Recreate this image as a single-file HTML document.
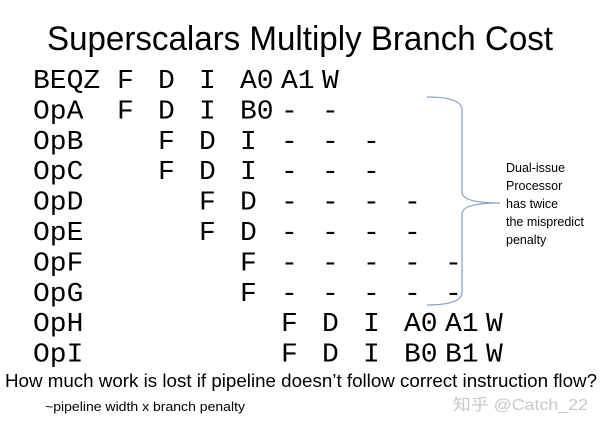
<!DOCTYPE html>
<html><head><meta charset="utf-8"><style>
html,body{margin:0;padding:0;background:#fff;width:600px;height:429px;overflow:hidden}
</style></head><body>
<svg width="600" height="429" xmlns="http://www.w3.org/2000/svg">
<text x="47" y="50" font-family="Liberation Sans, sans-serif" font-size="34" textLength="506" lengthAdjust="spacingAndGlyphs" fill="#000">Superscalars Multiply Branch Cost</text>
<g font-family="Liberation Mono, monospace" font-size="27" fill="#000" id="g"></g>
<path d="M427,97 Q462,97 462,110 L462,192 Q462,203 500,203 Q462,203 462,214 L462,292 Q462,305 427,305" fill="none" stroke="#8aa6c8" stroke-width="1.3"/>
<g font-family="Liberation Sans, sans-serif" font-size="12.5" fill="#000">
<text x="506" y="172">Dual-issue</text>
<text x="506" y="190">Processor</text>
<text x="506" y="208">has twice</text>
<text x="506" y="226">the mispredict</text>
<text x="506" y="244">penalty</text>
</g>
<text x="5" y="387" font-family="Liberation Sans, sans-serif" font-size="18" textLength="592" lengthAdjust="spacingAndGlyphs">How much work is lost if pipeline doesn’t follow correct instruction flow?</text>
<text x="45" y="411" font-family="Liberation Sans, sans-serif" font-size="12.5" textLength="200" lengthAdjust="spacingAndGlyphs">~pipeline width x branch penalty</text>
<text x="453" y="410" font-family="Liberation Sans, Noto Sans CJK SC, sans-serif" font-size="16" fill="#c8c8c8" textLength="135" lengthAdjust="spacingAndGlyphs">知乎 @Catch_22</text>
</svg>
<script>
var rows=[
["BEQZ",[[4,"F"],[6,"D"],[8,"I"],[10,"A0"],[12,"A1"],[14,"W"]]],
["OpA",[[4,"F"],[6,"D"],[8,"I"],[10,"B0"],[12,"-"],[14,"-"]]],
["OpB",[[6,"F"],[8,"D"],[10,"I"],[12,"-"],[14,"-"],[16,"-"]]],
["OpC",[[6,"F"],[8,"D"],[10,"I"],[12,"-"],[14,"-"],[16,"-"]]],
["OpD",[[8,"F"],[10,"D"],[12,"-"],[14,"-"],[16,"-"],[18,"-"]]],
["OpE",[[8,"F"],[10,"D"],[12,"-"],[14,"-"],[16,"-"],[18,"-"]]],
["OpF",[[10,"F"],[12,"-"],[14,"-"],[16,"-"],[18,"-"],[20,"-"]]],
["OpG",[[10,"F"],[12,"-"],[14,"-"],[16,"-"],[18,"-"],[20,"-"]]],
["OpH",[[12,"F"],[14,"D"],[16,"I"],[18,"A0"],[20,"A1"],[22,"W"]]],
["OpI",[[12,"F"],[14,"D"],[16,"I"],[18,"B0"],[20,"B1"],[22,"W"]]]];
var g=document.getElementById('g'),ns="http://www.w3.org/2000/svg";
function t(x,y,s,w){var e=document.createElementNS(ns,'text');e.setAttribute('x',x);e.setAttribute('y',y);if(w){e.setAttribute('textLength',w);e.setAttribute('lengthAdjust','spacingAndGlyphs');}e.textContent=s;g.appendChild(e);}
rows.forEach(function(r,i){var y=88+i*30.4;t(33,y,r[0],r[0].length*16.8);r[1].forEach(function(c){t(35+c[0]*20.5,y,c[1],c[1].length*16.8);});});
</script>
</body></html>
